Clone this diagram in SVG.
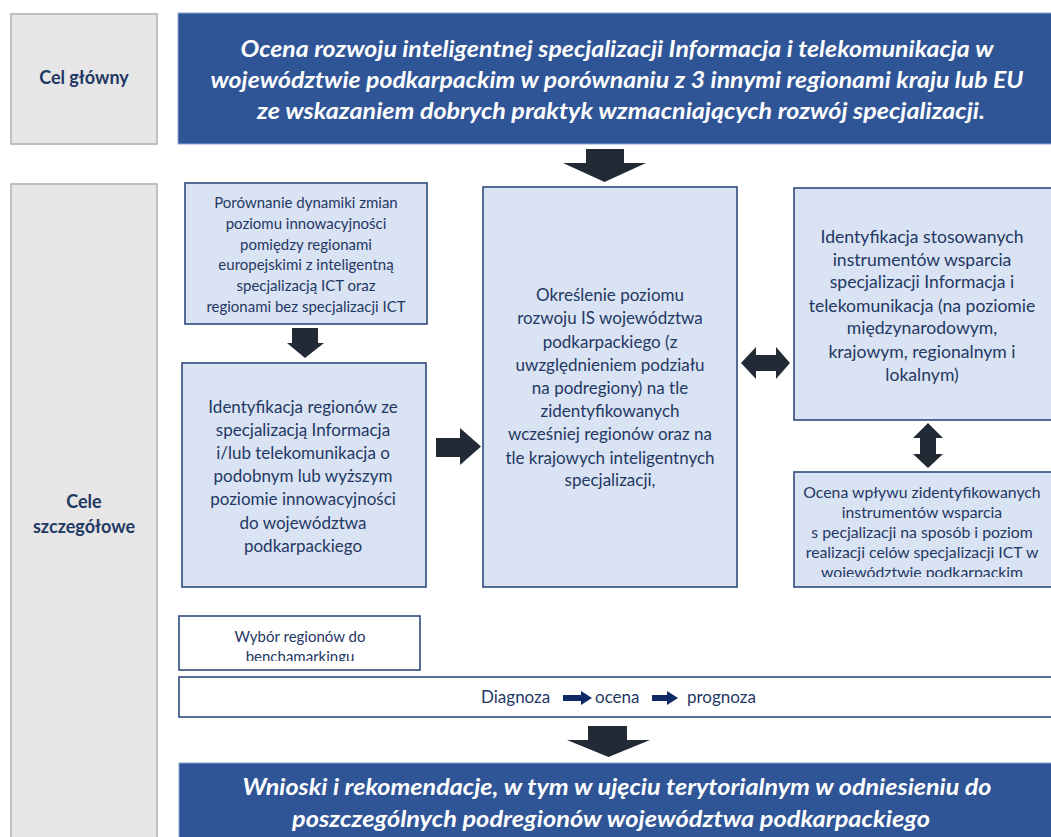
<svg xmlns="http://www.w3.org/2000/svg" width="1051" height="837" viewBox="0 0 1051 837">
<style>
.bg{fill:#ffffff}
.gray{fill:#E6E6E6;stroke:#BFBFBF;stroke-width:2}
.banner{fill:#2F5597;stroke:#8FA6CF;stroke-width:1}
.box{fill:#DAE3F3;stroke:#2E4A7D;stroke-width:1.6}
.wbox{fill:#FFFFFF;stroke:#2E4A7D;stroke-width:1.6}
.lbl{font-family:Lato,"Open Sans",sans-serif;font-weight:bold;font-size:18px;fill:#1F3864;text-anchor:middle}
.bt{font-family:Lato,"Open Sans",sans-serif;font-weight:bold;font-style:italic;font-size:22px;fill:#FFFFFF;text-anchor:middle}
.t17{font-family:Lato,"Open Sans",sans-serif;font-size:17px;fill:#1F3864;text-anchor:middle}
.t175{font-family:Lato,"Open Sans",sans-serif;font-size:17.6px;fill:#1F3864;text-anchor:middle}
.t15{font-family:Lato,"Open Sans",sans-serif;font-size:15px;fill:#1F3864;text-anchor:middle}
.t155{font-family:Lato,"Open Sans",sans-serif;font-size:15.8px;fill:#1F3864;text-anchor:middle}
.t16{font-family:Lato,"Open Sans",sans-serif;font-size:17px;fill:#1F3864}
.arr{fill:#222A35}
.sarr{fill:#0F2A66}
</style>
<defs>
<clipPath id="clipE"><rect x="794" y="472" width="257" height="105"/></clipPath>
<clipPath id="clipF"><rect x="179" y="616" width="241" height="45"/></clipPath>
</defs>
<rect class="bg" x="0" y="0" width="1051" height="837"/>

<g id="cel-glowny">
<rect class="gray" x="11" y="14" width="146" height="130"/>
<text class="lbl" x="84" y="84">Cel główny</text>
</g>

<g id="cel-banner">
<rect class="banner" x="178" y="13" width="880" height="131"/>
<text class="bt" x="617" y="57" textLength="753" lengthAdjust="spacingAndGlyphs">Ocena rozwoju inteligentnej specjalizacji Informacja i telekomunikacja w</text>
<text class="bt" x="617" y="88" textLength="813" lengthAdjust="spacingAndGlyphs">województwie podkarpackim w porównaniu z 3 innymi regionami kraju lub EU</text>
<text class="bt" x="621" y="119" textLength="728" lengthAdjust="spacingAndGlyphs">ze wskazaniem dobrych praktyk wzmacniających rozwój specjalizacji.</text>
</g>

<g id="cele-szczegolowe">
<rect class="gray" x="11" y="184" width="146" height="670"/>
<text class="lbl" x="84" y="508">Cele</text>
<text class="lbl" x="84" y="533">szczegółowe</text>
</g>

<g id="box-porownanie">
<rect class="box" x="185" y="183" width="242" height="141"/>
<text class="t15" x="306" y="208">Porównanie dynamiki zmian</text>
<text class="t15" x="306" y="229">poziomu innowacyjności</text>
<text class="t15" x="306" y="250">pomiędzy regionami</text>
<text class="t15" x="306" y="270">europejskimi z inteligentną</text>
<text class="t15" x="306" y="291">specjalizacją ICT oraz</text>
<text class="t15" x="306" y="312">regionami bez specjalizacji ICT</text>
</g>

<g id="box-identyfikacja-regionow">
<rect class="box" x="182" y="363" width="244" height="224"/>
<text class="t17" x="303" y="413">Identyfikacja regionów ze</text>
<text class="t17" x="303" y="436">specjalizacją Informacja</text>
<text class="t17" x="303" y="459">i/lub telekomunikacja o</text>
<text class="t17" x="303" y="482">podobnym lub wyższym</text>
<text class="t17" x="303" y="505">poziomie innowacyjności</text>
<text class="t17" x="303" y="529">do województwa</text>
<text class="t17" x="303" y="552">podkarpackiego</text>
</g>

<g id="box-okreslenie">
<rect class="box" x="483" y="187" width="254" height="400"/>
<text class="t17" x="610" y="301">Określenie poziomu</text>
<text class="t17" x="610" y="324">rozwoju IS województwa</text>
<text class="t17" x="610" y="348">podkarpackiego (z</text>
<text class="t17" x="610" y="371">uwzględnieniem podziału</text>
<text class="t17" x="610" y="394">na podregiony) na tle</text>
<text class="t17" x="610" y="417">zidentyfikowanych</text>
<text class="t17" x="610" y="440">wcześniej regionów oraz na</text>
<text class="t17" x="610" y="464">tle krajowych inteligentnych</text>
<text class="t17" x="610" y="486">specjalizacji,</text>
</g>

<g id="box-instrumenty">
<rect class="box" x="794" y="188" width="262" height="232"/>
<text class="t175" x="922" y="243">Identyfikacja stosowanych</text>
<text class="t175" x="922" y="266">instrumentów wsparcia</text>
<text class="t175" x="922" y="288">specjalizacji Informacja i</text>
<text class="t175" x="922" y="312">telekomunikacja (na poziomie</text>
<text class="t175" x="922" y="334">międzynarodowym,</text>
<text class="t175" x="922" y="358">krajowym, regionalnym i</text>
<text class="t175" x="922" y="381">lokalnym)</text>
</g>

<g id="box-ocena-wplywu">
<rect class="box" x="794" y="472" width="262" height="115"/>
<g clip-path="url(#clipE)">
<text class="t155" x="922" y="498">Ocena wpływu zidentyfikowanych</text>
<text class="t155" x="922" y="518">instrumentów wsparcia</text>
<text class="t155" x="922" y="538">s pecjalizacji na sposób i poziom</text>
<text class="t155" x="922" y="558">realizacji celów specjalizacji ICT w</text>
<text class="t155" x="922" y="578">województwie podkarpackim</text>
</g>
</g>

<g id="box-wybor">
<rect class="wbox" x="179" y="616" width="241" height="54"/>
<g clip-path="url(#clipF)">
<text class="t15" x="300" y="642">Wybór regionów do</text>
<text class="t15" x="300" y="662">benchamarkingu</text>
</g>
</g>

<g id="box-diagnoza">
<rect class="wbox" x="179" y="677" width="880" height="40"/>
<text class="t16" x="481" y="703">Diagnoza</text>
<text class="t16" x="595" y="703">ocena</text>
<text class="t16" x="687" y="703">prognoza</text>
<polygon class="sarr" points="563,695 581,695 581,691 592,698 581,705 581,701 563,701"/>
<polygon class="sarr" points="652,695 667,695 667,691 678,698 667,705 667,701 652,701"/>
</g>

<g id="wnioski">
<rect class="banner" x="179" y="763" width="880" height="90"/>
<text class="bt" x="617" y="795" textLength="749" lengthAdjust="spacingAndGlyphs">Wnioski i rekomendacje, w tym w ujęciu terytorialnym w odniesieniu do</text>
<text class="bt" x="611" y="827" textLength="638" lengthAdjust="spacingAndGlyphs">poszczególnych podregionów województwa podkarpackiego</text>
</g>

<g id="connectors">
<polygon class="arr" points="586,149 624,149 624,163 646,163 604.5,182 563,163 586,163"/>
<polygon class="arr" points="292,328 318,328 318,343 324,343 305,358 287,343 292,343"/>
<polygon class="arr" points="436,438 460,438 460,428 481,446.5 460,465 460,457 436,457"/>
<polygon class="arr" points="741,363 756,347 756,355 776,355 776,347 790,363 776,379 776,371 756,371 756,379"/>
<polygon class="arr" points="928,423 943,438 936,438 936,454 943,454 928,468 913,454 920,454 920,438 913,438"/>
<polygon class="arr" points="588,726 627,726 627,740 650,740 608.5,757 567,740 588,740"/>
</g>
</svg>
